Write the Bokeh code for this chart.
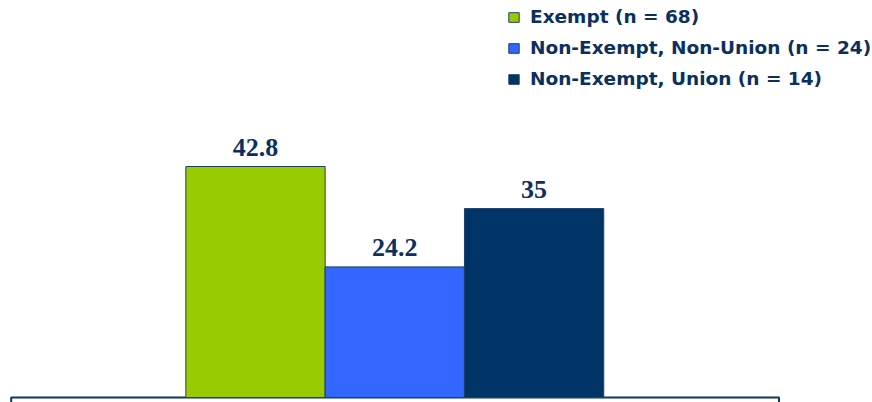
from bokeh.plotting import figure
from bokeh.models import ColumnDataSource, Range1d, Legend, LegendItem
from bokeh.core.properties import value
from bokeh.embed import file_html
from bokeh.resources import INLINE

# ---- data ----
categories = ["Exempt (n = 68)", "Non-Exempt, Non-Union (n = 24)", "Non-Exempt, Union (n = 14)"]
values = [42.8, 24.2, 35]
labels = [str(v) for v in values]
colors = ["#99CC00", "#3366FF", "#003366"]

W, H = 872, 402
# pixel geometry (screen px inside the figure)
x0_px, bar_w_px = 255.0, 139.3      # centre of first bar, bar pitch
base_px, px_per_unit = 397.0, 231.0 / 42.8

xs = list(range(len(values)))
src = ColumnDataSource(dict(x=xs, top=values, label=labels, color=colors, cat=categories))

p = figure(width=W, height=H, output_backend="svg", toolbar_location=None,
           min_border=0, min_border_left=0, min_border_right=0,
           min_border_top=0, min_border_bottom=0)
p.x_range = Range1d(-x0_px / bar_w_px, (W - x0_px) / bar_w_px)
p.y_range = Range1d(-(H - base_px) / px_per_unit, base_px / px_per_unit)
p.axis.visible = False
p.grid.visible = False
p.outline_line_color = None
p.background_fill_color = "white"
p.border_fill_color = "white"

# baseline box (top edge of the cropped category box)
bx_left = (10.7 - x0_px) / bar_w_px
bx_right = (778.5 - x0_px) / bar_w_px
p.quad(left=[bx_left], right=[bx_right], top=[0], bottom=[-5],
       fill_color=None, line_color="#0F3562", line_width=2)

r = p.vbar(x="x", top="top", bottom=0, width=1.0, source=src,
           fill_color="color", line_color="#1F3F66", line_width=1)

p.text(x="x", y="top", text="label", source=src,
       text_align="center", text_baseline="alphabetic", y_offset=-19,
       text_font=value("Liberation Serif"), text_font_style="bold",
       text_font_size="26px", text_color="#0A3060")

items = [LegendItem(label=c, renderers=[r], index=i) for i, c in enumerate(categories)]
legend = Legend(items=items, location=(507, H - 89), orientation="vertical",
                glyph_width=13, glyph_height=12, label_height=20, spacing=10,
                label_standoff=10, padding=0, margin=0,
                label_text_font="DejaVu Sans", label_text_font_style="bold",
                label_text_font_size="18.5px", label_text_color="#0A3060",
                border_line_alpha=0, background_fill_alpha=0)
p.add_layout(legend, "center")

open("out.html", "w").write(file_html(p, INLINE))
